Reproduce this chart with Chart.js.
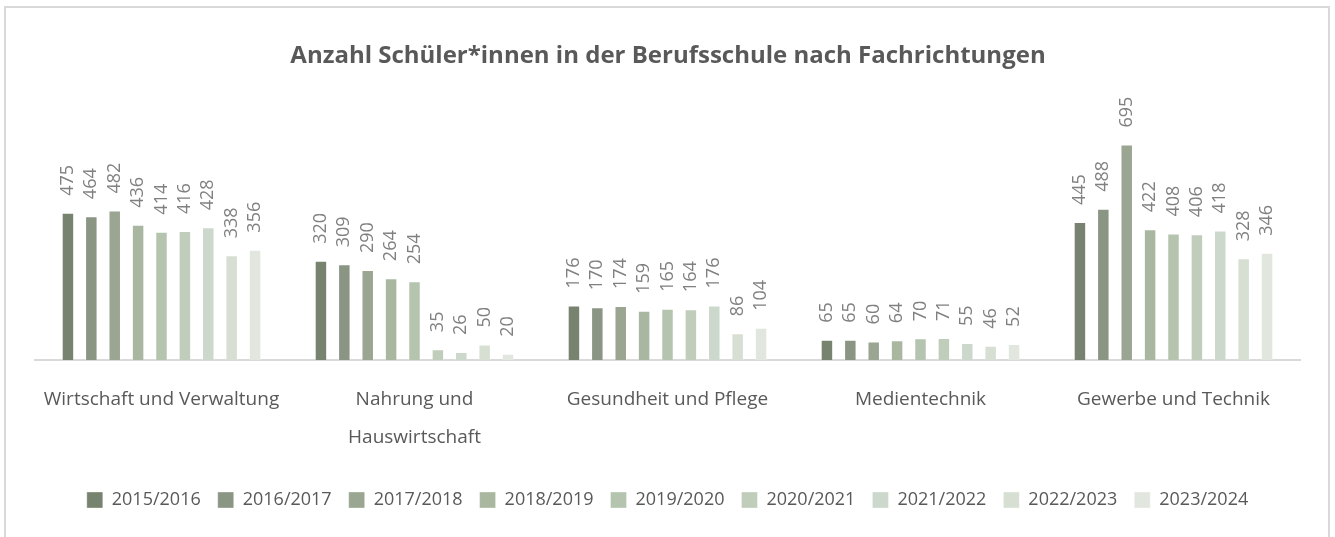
<!DOCTYPE html>
<html><head><meta charset="utf-8">
<script src="https://cdn.jsdelivr.net/npm/chart.js@4.4.0/dist/chart.umd.min.js"></script>
<style>
html,body{margin:0;padding:0;background:#fff;}
#frame{position:absolute;left:4px;top:6px;width:1326px;height:560px;border:2px solid #d9d9d9;border-bottom:none;box-sizing:border-box;}
#wrap{position:absolute;left:0;top:0;width:1335px;height:537px;}
</style></head>
<body>
<div id="frame"></div>
<div id="wrap"><canvas id="c" width="1335" height="537"></canvas></div>
<script>
const title = "Anzahl Schüler*innen in der Berufsschule nach Fachrichtungen";
const categories = [["Wirtschaft und Verwaltung"], ["Nahrung und", "Hauswirtschaft"], ["Gesundheit und Pflege"], ["Medientechnik"], ["Gewerbe und Technik"]];
const years = ["2015/2016","2016/2017","2017/2018","2018/2019","2019/2020","2020/2021","2021/2022","2022/2023","2023/2024"];
const v2015 = [475, 320, 176, 65, 445];
const v2016 = [464, 309, 170, 65, 488];
const v2017 = [482, 290, 174, 60, 695];
const v2018 = [436, 264, 159, 64, 422];
const v2019 = [414, 254, 165, 70, 408];
const v2020 = [416, 35, 164, 71, 406];
const v2021 = [428, 26, 176, 55, 418];
const v2022 = [338, 50, 86, 46, 328];
const v2023 = [356, 20, 104, 52, 346];
const seriesValues = [v2015, v2016, v2017, v2018, v2019, v2020, v2021, v2022, v2023];
const colors = ["#78836f","#8a9683","#9aa692","#a9b7a1","#b5c4ae","#c1cdbb","#ccd8cb","#d7dfd3","#e1e7df"];

const FONT = "'Open Sans', sans-serif";
const TXT = "#595959";

const titlePlugin = {
  id: 'titleDraw',
  afterDraw(chart) {
    const ctx = chart.ctx;
    ctx.save();
    ctx.font = "bold 24px " + FONT;
    ctx.fillStyle = TXT;
    ctx.textAlign = 'center';
    ctx.textBaseline = 'middle';
    ctx.fillText(title, 668, 56);
    ctx.restore();
  }
};
const labelPlugin = {
  id: 'barLabels',
  afterDatasetsDraw(chart) {
    const ctx = chart.ctx;
    ctx.save();
    ctx.font = "18px " + FONT;
    ctx.fillStyle = "#808080";
    ctx.textAlign = 'left';
    ctx.textBaseline = 'middle';
    chart.data.datasets.forEach((ds, i) => {
      const meta = chart.getDatasetMeta(i);
      meta.data.forEach((bar, j) => {
        ctx.save();
        ctx.translate(bar.x, bar.y - 17);
        ctx.rotate(-Math.PI / 2);
        ctx.fillText(String(ds.data[j]), 0, 0);
        ctx.restore();
      });
    });
    ctx.restore();
  }
};

new Chart(document.getElementById('c'), {
  type: 'bar',
  data: {
    labels: categories,
    datasets: years.map((y, i) => ({
      label: y,
      data: seriesValues[i],
      backgroundColor: colors[i],
      borderColor: 'rgba(255,255,255,0.35)',
      borderWidth: 1,
      categoryPercentage: 0.832,
      barPercentage: 0.534
    }))
  },
  options: {
    responsive: false,
    animation: false,
    layout: { padding: { top: 112, left: 35, right: 35, bottom: 18 } },
    scales: {
      x: {
        grid: { display: false, drawTicks: false },
        border: { display: true, color: '#d9d9d9', width: 2 },
        ticks: { color: TXT, font: { family: FONT, size: 19, lineHeight: 2 }, padding: 21, maxRotation: 0, autoSkip: false },
        afterFit(s) { s.height = 114; }
      },
      y: {
        display: false,
        min: 0, max: 800
      }
    },
    plugins: {
      legend: {
        position: 'bottom',
        labels: { color: TXT, font: { family: FONT, size: 18 }, boxWidth: 16, boxHeight: 16, padding: 17 }
      },
      tooltip: { enabled: false }
    }
  },
  plugins: [titlePlugin, labelPlugin]
});
</script>
</body></html>
